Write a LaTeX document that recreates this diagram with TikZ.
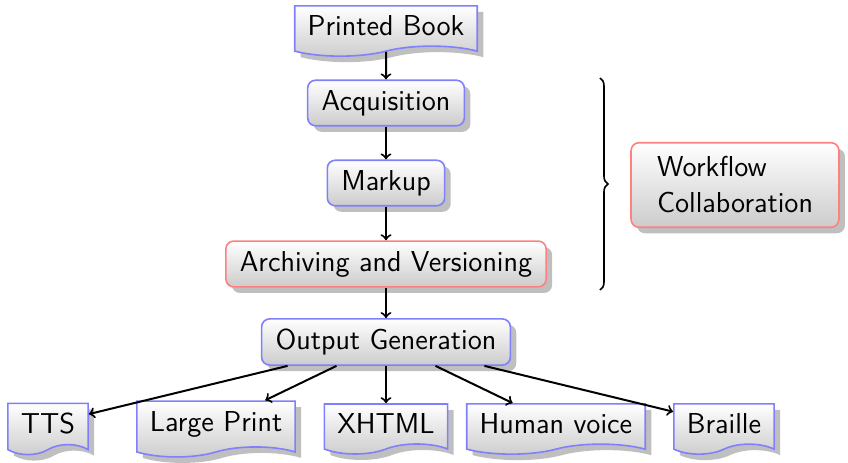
\documentclass[tikz,border=0pt]{standalone}
\usetikzlibrary{shapes.symbols,shadows,decorations.pathreplacing}

\tikzset{
	stage/.style={rectangle, rounded corners, draw=blue!50, thick, top color=white, bottom color=black!20, drop shadow={shadow xshift=3pt, shadow yshift=-3pt}, inner xsep=7pt, inner ysep=5pt, font=\sffamily\Large},
	keystage/.style={stage, draw=red!50},
	doc/.style={tape, tape bend top=none, draw=blue!50, thick, top color=white, bottom color=black!20, drop shadow={shadow xshift=3pt, shadow yshift=-3pt}, inner xsep=6.5pt, inner ysep=5pt, font=\sffamily\Large},
	flow/.style={->, line width=1pt},
}

\begin{document}
\begin{tikzpicture}[x=10pt, y=10pt]
		\useasboundingbox (0, 0) rectangle (42.4, 23.1);

		\node[doc] (book) at (19.3, 21.8) {Printed Book};
		\node[stage] (acq) at (19.3, 17.95) {Acquisition};
		\node[stage] (markup) at (19.3, 13.95) {Markup};
		\node[keystage] (archive) at (19.3, 9.9) {Archiving and Versioning};
		\node[stage] (output) at (19.3, 6.0) {Output Generation};

		\node[doc] (tts) at (2.4, 1.9) {TTS};
		\node[doc] (large) at (10.8, 1.9) {Large Print};
		\node[doc] (xhtml) at (19.3, 1.9) {XHTML};
		\node[doc] (voice) at (27.8, 1.9) {Human voice};
		\node[doc] (braille) at (36.2, 1.9) {Braille};

		\node[keystage, align=left, inner xsep=13pt, inner ysep=7pt] (collab) at (36.75, 13.85) {Workflow\\Collaboration};

		\draw[flow] (book) -- (acq);
		\draw[flow] (acq) -- (markup);
		\draw[flow] (markup) -- (archive);
		\draw[flow] (archive) -- (output);

		\draw[flow] (output) -- (tts);
		\draw[flow] (output) -- (large);
		\draw[flow] (output) -- (xhtml);
		\draw[flow] (output) -- (voice);
		\draw[flow] (output) -- (braille);

		\coordinate (bracetop) at (30, 19.2);
		\coordinate (bracebot) at (30, 8.6);
		\draw[thick, decorate, decoration={brace, amplitude=4pt}] (bracetop) -- (bracebot);
	\end{tikzpicture}
\end{document}
